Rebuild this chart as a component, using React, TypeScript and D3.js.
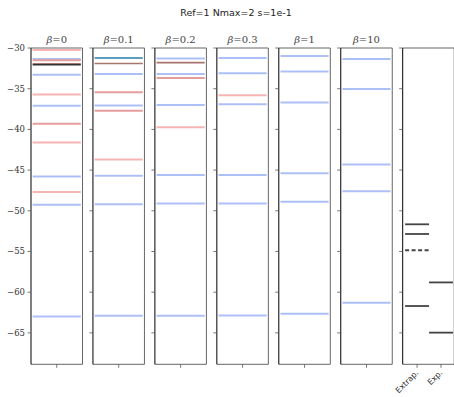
import React from "react";
import * as d3 from "d3";

// energy levels per beta panel: [energy, kind]
// kind: b = light blue, r = light red, R = red, t = teal, d = dark brown, k = black
const betas = ["0", "0.1", "0.2", "0.3", "1", "10"];

const levels0: [number, string][] = [
  [-30.25, "r"], [-31.35, "b"], [-31.5, "R"], [-31.95, "d"], [-32.05, "k"],
  [-33.3, "b"], [-35.7, "r"], [-37.1, "b"], [-39.3, "R"], [-41.6, "r"],
  [-45.8, "b"], [-47.7, "r"], [-49.25, "b"], [-63.0, "b"],
];
const levels01: [number, string][] = [
  [-31.23, "t"], [-31.9, "d"], [-33.2, "b"], [-35.45, "R"], [-37.05, "b"],
  [-37.7, "R"], [-43.7, "r"], [-45.7, "b"], [-49.2, "b"], [-62.9, "b"],
];
const levels02: [number, string][] = [
  [-31.3, "b"], [-31.8, "d"], [-33.2, "b"], [-33.7, "R"], [-37.0, "b"],
  [-39.75, "r"], [-45.6, "b"], [-49.1, "b"], [-62.9, "b"],
];
const levels03: [number, string][] = [
  [-31.23, "b"], [-33.1, "b"], [-35.8, "r"], [-36.9, "b"], [-45.6, "b"],
  [-49.1, "b"], [-62.85, "b"],
];
const levels1: [number, string][] = [
  [-30.98, "b"], [-32.9, "b"], [-36.7, "b"], [-45.4, "b"], [-48.9, "b"], [-62.65, "b"],
];
const levels10: [number, string][] = [
  [-31.35, "b"], [-35.04, "b"], [-44.3, "b"], [-47.6, "b"], [-61.3, "b"],
];
const allLevels = [levels0, levels01, levels02, levels03, levels1, levels10];

const extrap: [number, boolean][] = [
  [-51.66, false], [-52.85, false], [-54.85, true], [-61.7, false],
];
const expt = [-58.8, -64.97];

const yTicks = [-30, -35, -40, -45, -50, -55, -60, -65];
const compLabels = ["Extrap.", "Exp."];

const colors: Record<string, string> = {
  b: "#adbff7",
  r: "#f6b4b4",
  R: "#e79c9c",
  t: "#5c9dc0",
  d: "#a8746e",
  k: "#333333",
};

const W = 454;
const H = 397;
const top = 48;
const bottom = 364.3;
const panelW = 51.5;
const step = 61.95;
const left0 = 31;

export default function App() {
  const y = d3.scaleLinear().domain([-68.86, -30]).range([bottom, top]);
  const serif = "'DejaVu Serif', serif";
  const sans = "'DejaVu Sans', sans-serif";

  const axisFrame = (x0: number, key: string, xTicks: number[]) => (
    <g key={key}>
      <line x1={x0} x2={x0 + panelW} y1={top} y2={top} stroke="#666" strokeWidth={1} />
      <line x1={x0} x2={x0 + panelW} y1={bottom} y2={bottom} stroke="#666" strokeWidth={1} />
      <line x1={x0 + panelW} x2={x0 + panelW} y1={top} y2={bottom} stroke="#666" strokeWidth={1} />
      <line x1={x0} x2={x0} y1={top} y2={bottom} stroke="#000" strokeWidth={1} />
      {yTicks.map((t) => (
        <line key={t} x1={x0 - 3.5} x2={x0} y1={y(t)} y2={y(t)} stroke="#555" strokeWidth={0.8} />
      ))}
      {xTicks.map((xt) => (
        <line key={xt} x1={xt} x2={xt} y1={bottom} y2={bottom + 3.5} stroke="#555" strokeWidth={0.8} />
      ))}
    </g>
  );

  return (
    <svg width={W} height={H} style={{ position: "absolute", left: 0, top: 0 }}>
      <rect width={W} height={H} fill="#fff" />
      <text x={236} y={16} textAnchor="middle" fontFamily={sans} fontSize={9.5} fill="#222">
        Ref=1 Nmax=2 s=1e-1
      </text>
      {yTicks.map((t) => (
        <text key={t} x={25} y={y(t) + 3} textAnchor="end" fontFamily={serif} fontSize={8.5} fill="#333">
          {"\u2212" + Math.abs(t)}
        </text>
      ))}
      {allLevels.map((lv, i) => {
        const x0 = left0 + i * step;
        const x = d3.scaleLinear().domain([-0.535, 0.535]).range([x0, x0 + panelW]);
        return (
          <g key={i}>
            {lv.map(([e, k], j) => (
              <line key={j} x1={x(-0.5)} x2={x(0.5)} y1={y(e)} y2={y(e)}
                stroke={colors[k]} strokeWidth={k === "k" || k === "d" ? 1.6 : 2} />
            ))}
            {axisFrame(x0, "f" + i, [x(0)])}
            <text x={x(0)} y={43} textAnchor="middle" fontFamily={serif} fontSize={10} fill="#444">
              <tspan fontStyle="italic">β</tspan>={betas[i]}
            </text>
          </g>
        );
      })}
      {(() => {
        const x0 = left0 + 6 * step;
        const x = d3.scaleLinear().domain([-0.6, 1.55]).range([x0, x0 + panelW]);
        return (
          <g>
            {extrap.map(([e, dashed], j) => (
              <line key={j} x1={x(-0.5)} x2={x(0.5)} y1={y(e)} y2={y(e)} stroke="#444"
                strokeWidth={1.8} strokeDasharray={dashed ? "4,2.5" : undefined} />
            ))}
            {expt.map((e, j) => (
              <line key={j} x1={x(0.5)} x2={x(1.5)} y1={y(e)} y2={y(e)} stroke="#444" strokeWidth={1.8} />
            ))}
            {axisFrame(x0, "f7", [x(0), x(1)])}
            {compLabels.map((l, j) => (
              <text key={l} transform={`translate(${x(j) + 2},${bottom + 9}) rotate(-45)`}
                textAnchor="end" fontFamily={sans} fontSize={8} fill="#333">
                {l}
              </text>
            ))}
          </g>
        );
      })()}
    </svg>
  );
}
